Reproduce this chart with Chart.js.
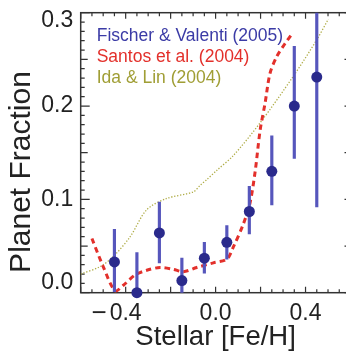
<!DOCTYPE html>
<html>
<head>
<meta charset="utf-8">
<script src="https://cdn.jsdelivr.net/npm/chart.js@4"></script>
<style>
  html, body { margin: 0; padding: 0; background: #fff; overflow: hidden; }
  #wrap { width: 356px; height: 356px; }
</style>
</head>
<body>
<div id="wrap"><canvas id="chart" width="356" height="356"></canvas></div>
<script>
// Fischer & Valenti (2005) - binned planet fraction with error bars
const binFeH = [-0.45, -0.35, -0.25, -0.15, -0.05, 0.05, 0.15, 0.25, 0.35, 0.45];
const fvFraction = [0.033, 0.0, 0.064, 0.013, 0.037, 0.054, 0.087, 0.130, 0.200, 0.231];
const fvErrLow = [0.001, 0.0, 0.032, 0.0, 0.021, 0.036, 0.063, 0.094, 0.144, 0.092];
const fvErrHigh = [0.068, 0.043, 0.097, 0.037, 0.054, 0.072, 0.114, 0.168, 0.264, 0.37];

// Santos et al. (2004) curve
const santosFeH = [-0.55, -0.50, -0.447, -0.41, -0.358, -0.306, -0.247, -0.188, -0.143, -0.084,
  -0.01, 0.05, 0.079, 0.124, 0.153, 0.176, 0.198, 0.22, 0.242, 0.272, 0.309, 0.339];
const santosFraction = [0.058, 0.028, 0.002, 0.008, 0.019, 0.024, 0.027, 0.025, 0.0225, 0.027,
  0.032, 0.036, 0.049, 0.074, 0.096, 0.130, 0.174, 0.203, 0.235, 0.253, 0.267, 0.277];

// Ida & Lin (2004) curve
const idaFeH = [-0.6, -0.513, -0.454, -0.38, -0.306, -0.217, -0.099, -0.069, -0.04, 0.005,
  0.079, 0.198, 0.346, 0.45, 0.501];
const idaFraction = [0.020, 0.028, 0.039, 0.060, 0.089, 0.101, 0.108, 0.115, 0.121, 0.131,
  0.147, 0.182, 0.232, 0.271, 0.293];

const xTickValues = [-0.4, 0.0, 0.4];
const yTickValues = [0.0, 0.1, 0.2, 0.3];
const legendNames = ["Fischer & Valenti (2005)", "Santos et al. (2004)", "Ida & Lin (2004)"];
const xTitle = "Stellar [Fe/H]";
const yTitle = "Planet Fraction";

const blueDot = "#2a2a8c";
const blueBar = "#5656bc";
const blueText = "#3b3ba6";
const red = "#e3302b";
const olive = "#b0ad48";
const ink = "#222";
const fontFamily = "'Liberation Sans', Arial, Helvetica, sans-serif";

function fmt(v) {
  return v.toFixed(1).replace("-", "\u2212");
}

// frame and inward ticks on all four sides
const frameTicks = {
  id: "frameTicks",
  beforeDatasetsDraw(chart) {
    const { ctx, chartArea: a, scales } = chart;
    const x = scales.x, y = scales.y;
    ctx.save();
    ctx.strokeStyle = "#333";
    ctx.lineWidth = 1.5;
    ctx.strokeRect(a.left, a.top, a.right - a.left, a.bottom - a.top);
    ctx.lineWidth = 1.2;
    ctx.beginPath();
    for (let i = -12; i <= 12; i++) {
      const px = x.getPixelForValue(i * 0.05);
      const len = i % 4 === 0 ? 6 : 3.5;
      ctx.moveTo(px, a.bottom); ctx.lineTo(px, a.bottom - len);
      ctx.moveTo(px, a.top); ctx.lineTo(px, a.top + len);
    }
    for (let j = 0; j <= 30; j++) {
      const py = y.getPixelForValue(j * 0.01);
      const len = j % 10 === 0 ? 9 : (j % 5 === 0 ? 7 : 4);
      ctx.moveTo(a.left, py); ctx.lineTo(a.left + len, py);
      if (j % 5 === 0) { ctx.moveTo(a.right, py); ctx.lineTo(a.right - 6, py); }
    }
    ctx.stroke();
    ctx.restore();
  }
};

// tick labels + y title, placed like the original plot
const axisText = {
  id: "axisText",
  afterDraw(chart) {
    const { ctx, chartArea: a, scales } = chart;
    ctx.save();
    ctx.fillStyle = ink;
    ctx.font = "23px " + fontFamily;
    ctx.textBaseline = "middle";

    // y labels, end ones pulled inside the axis
    ctx.textAlign = "right";
    yTickValues.forEach((v) => {
      let py = scales.y.getPixelForValue(v);
      py = Math.min(Math.max(py, a.top + 8), a.bottom - 10);
      ctx.fillText(fmt(v), a.left - 7.5, py);
    });

    // x labels, number centred on tick, minus hanging left
    xTickValues.forEach((v) => {
      const px = scales.x.getPixelForValue(v);
      const num = Math.abs(v).toFixed(1);
      const w = ctx.measureText(num).width;
      ctx.textAlign = "left";
      ctx.fillText(num, px - w / 2, 314);
      if (v < 0) {
        ctx.save();
        ctx.font = "26px " + fontFamily;
        ctx.textAlign = "right";
        ctx.fillText("\u2212", px - w / 2 - 3, 314);
        ctx.restore();
      }
    });

    // y title
    ctx.font = "30px " + fontFamily;
    ctx.textAlign = "center";
    ctx.translate(21.5, 172);
    ctx.rotate(-Math.PI / 2);
    ctx.fillText(yTitle, 0, 0);
    ctx.restore();
  }
};

// text-only legend inside the plot
const textLegend = {
  id: "textLegend",
  afterDraw(chart) {
    const { ctx, chartArea: a } = chart;
    const colors = [blueText, red, "#a09e35"];
    ctx.save();
    ctx.font = "17.5px " + fontFamily;
    ctx.textBaseline = "middle";
    ctx.textAlign = "left";
    legendNames.forEach((name, i) => {
      ctx.fillStyle = colors[i];
      ctx.fillText(name, a.left + 16, a.top + 23 + i * 21);
    });
    ctx.restore();
  }
};

const ctx = document.getElementById("chart");
new Chart(ctx, {
  type: "line",
  data: {
    datasets: [
      {
        label: legendNames[0],
        type: "line",
        data: binFeH.map((v, i) => ({ x: v, y: fvFraction[i] })),
        showLine: false,
        pointRadius: 5.5,
        pointBackgroundColor: blueDot,
        pointBorderColor: blueDot,
        pointBorderWidth: 0,
        clip: false,
        order: 0
      },
      {
        label: "errors",
        type: "bar",
        data: binFeH.map((v, i) => ({ x: v, y: [fvErrLow[i], fvErrHigh[i]] })),
        backgroundColor: blueBar,
        barThickness: 2.5,
        grouped: false,
        order: 1
      },
      {
        label: legendNames[1],
        type: "line",
        data: santosFeH.map((v, i) => ({ x: v, y: santosFraction[i] })),
        borderColor: red,
        borderWidth: 3,
        borderDash: [5.5, 4],
        pointRadius: 0,
        tension: 0.3,
        fill: false,
        order: 2
      },
      {
        label: legendNames[2],
        type: "line",
        data: idaFeH.map((v, i) => ({ x: v, y: idaFraction[i] })),
        borderColor: olive,
        borderWidth: 1.3,
        borderDash: [1.3, 1.7],
        pointRadius: 0,
        tension: 0.3,
        fill: false,
        order: 3
      }
    ]
  },
  options: {
    responsive: false,
    animation: false,
    devicePixelRatio: 1,
    layout: { padding: { top: 12.7, right: 5.5, left: 0, bottom: 0 } },
    plugins: { legend: { display: false }, tooltip: { enabled: false } },
    scales: {
      x: {
        type: "linear",
        min: -0.6,
        max: 0.6,
        offset: false,
        grid: { display: false, drawTicks: false, offset: false },
        border: { display: false },
        afterBuildTicks: (s) => { s.ticks = xTickValues.map((v) => ({ value: v })); },
        afterFit: (s) => { s.height = 63.3; },
        ticks: { display: false },
        title: {
          display: true,
          text: xTitle,
          color: ink,
          font: { family: fontFamily, size: 27.5 },
          padding: { top: 0, bottom: 2 }
        }
      },
      y: {
        type: "linear",
        min: 0,
        max: 0.3,
        grid: { display: false, drawTicks: false },
        border: { display: false },
        afterBuildTicks: (s) => { s.ticks = yTickValues.map((v) => ({ value: v })); },
        afterFit: (s) => { s.width = 80.7; },
        ticks: { display: false }
      }
    }
  },
  plugins: [frameTicks, axisText, textLegend]
});
</script>
</body>
</html>
